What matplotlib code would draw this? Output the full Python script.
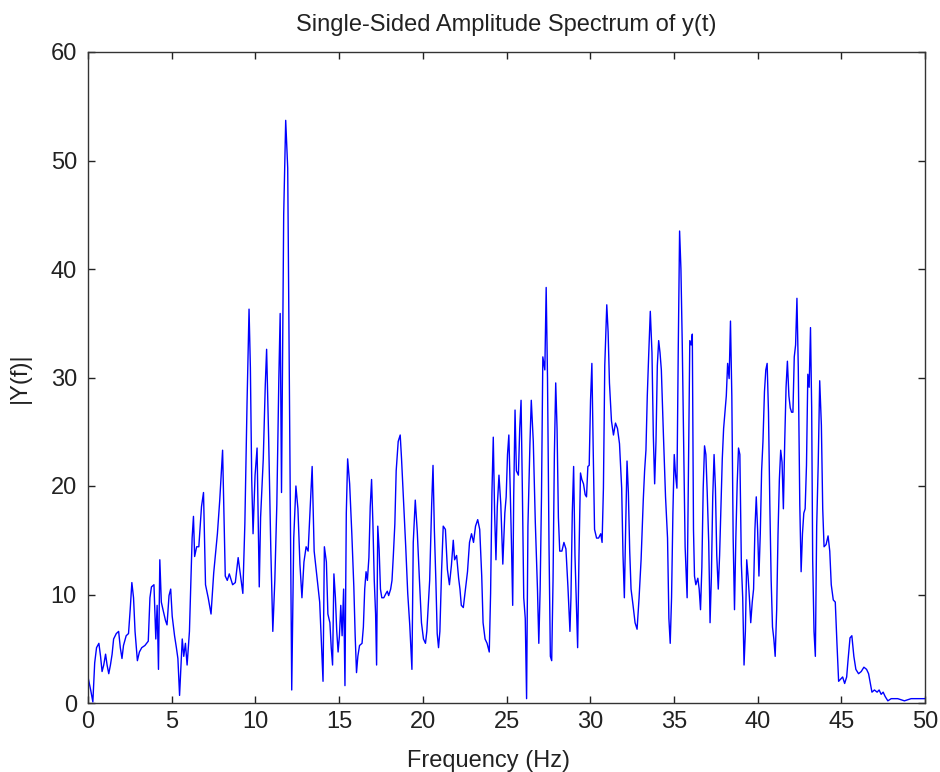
import matplotlib
matplotlib.use('Agg')
import matplotlib.pyplot as plt

plt.rcParams['font.family'] = ['Liberation Sans', 'DejaVu Sans']

# Frequency (Hz) and |Y(f)|
freq = [
   0.0, 0.16, 0.29, 0.4, 0.51, 0.65, 0.75, 0.84, 0.94, 1.05, 1.14, 1.24, 1.34, 1.44,
   1.53, 1.69, 1.83, 1.93, 2.03, 2.12, 2.28, 2.42, 2.52, 2.62, 2.72, 2.81, 2.95, 3.07,
   3.21, 3.4, 3.6, 3.7, 3.79, 3.94, 4.05, 4.13, 4.21, 4.29, 4.38, 4.48, 4.63, 4.72,
   4.84, 4.94, 5.03, 5.17, 5.28, 5.37, 5.47, 5.63, 5.72, 5.82, 5.92, 6.06, 6.22, 6.3,
   6.37, 6.49, 6.62, 6.78, 6.9, 7.02, 7.18, 7.35, 7.51, 7.73, 7.87, 8.04, 8.2, 8.32,
   8.44, 8.64, 8.8, 8.97, 9.13, 9.25, 9.37, 9.5, 9.62, 9.7, 9.78, 9.86, 9.98, 10.1,
   10.23, 10.31, 10.47, 10.59, 10.67, 10.79, 10.92, 11.04, 11.16, 11.28, 11.4, 11.48,
   11.56, 11.69, 11.81, 11.93, 12.05, 12.17, 12.29, 12.42, 12.54, 12.66, 12.78, 12.9,
   13.03, 13.15, 13.27, 13.39, 13.51, 13.67, 13.84, 13.98, 14.04, 14.12, 14.24, 14.33,
   14.45, 14.53, 14.61, 14.69, 14.78, 14.86, 14.94, 15.02, 15.1, 15.18, 15.27, 15.35,
   15.43, 15.51, 15.63, 15.76, 15.88, 15.96, 16.04, 16.12, 16.22, 16.37, 16.45, 16.53,
   16.61, 16.69, 16.78, 16.86, 16.94, 17.02, 17.1, 17.18, 17.24, 17.31, 17.39, 17.47,
   17.55, 17.67, 17.8, 17.88, 17.96, 18.08, 18.16, 18.24, 18.33, 18.41, 18.53, 18.65,
   18.73, 18.86, 18.98, 19.1, 19.22, 19.35, 19.43, 19.55, 19.67, 19.8, 19.92, 20.04,
   20.16, 20.24, 20.33, 20.41, 20.53, 20.61, 20.69, 20.78, 20.86, 20.94, 21.02, 21.12,
   21.22, 21.35, 21.47, 21.59, 21.71, 21.82, 21.9, 22.02, 22.14, 22.22, 22.3, 22.42,
   22.55, 22.67, 22.79, 22.91, 23.03, 23.15, 23.28, 23.4, 23.52, 23.6, 23.72, 23.84,
   23.97, 24.05, 24.13, 24.21, 24.29, 24.37, 24.45, 24.55, 24.66, 24.78, 24.9, 24.98,
   25.06, 25.14, 25.22, 25.3, 25.37, 25.43, 25.51, 25.59, 25.71, 25.79, 25.87, 25.95,
   26.03, 26.12, 26.2, 26.28, 26.4, 26.48, 26.6, 26.72, 26.85, 26.93, 27.01, 27.09,
   27.17, 27.29, 27.37, 27.45, 27.54, 27.62, 27.7, 27.78, 27.86, 27.94, 28.02, 28.1,
   28.18, 28.31, 28.43, 28.55, 28.67, 28.79, 28.85, 28.93, 29.01, 29.09, 29.17, 29.25,
   29.33, 29.42, 29.5, 29.6, 29.7, 29.78, 29.86, 29.94, 30.02, 30.1, 30.18, 30.26,
   30.38, 30.5, 30.63, 30.71, 30.79, 30.87, 30.99, 31.07, 31.15, 31.27, 31.39, 31.51,
   31.63, 31.75, 31.88, 31.96, 32.04, 32.12, 32.2, 32.28, 32.36, 32.44, 32.56, 32.68,
   32.8, 32.92, 33.04, 33.17, 33.25, 33.33, 33.41, 33.49, 33.59, 33.69, 33.77, 33.85,
   33.93, 34.01, 34.09, 34.17, 34.25, 34.37, 34.5, 34.62, 34.7, 34.78, 34.86, 34.94,
   35.02, 35.1, 35.18, 35.26, 35.34, 35.42, 35.5, 35.58, 35.67, 35.79, 35.87, 35.95,
   36.03, 36.1, 36.17, 36.23, 36.31, 36.43, 36.51, 36.59, 36.67, 36.75, 36.83, 36.91,
   36.99, 37.08, 37.16, 37.24, 37.32, 37.4, 37.48, 37.56, 37.65, 37.73, 37.81, 37.89,
   37.97, 38.05, 38.13, 38.21, 38.3, 38.38, 38.46, 38.54, 38.62, 38.7, 38.78, 38.86,
   38.94, 39.03, 39.11, 39.19, 39.27, 39.35, 39.43, 39.51, 39.59, 39.68, 39.76, 39.84,
   39.92, 40.0, 40.08, 40.16, 40.24, 40.32, 40.41, 40.49, 40.57, 40.65, 40.73, 40.81,
   40.89, 40.97, 41.05, 41.14, 41.22, 41.3, 41.38, 41.46, 41.54, 41.62, 41.7, 41.78,
   41.87, 41.95, 42.03, 42.11, 42.19, 42.27, 42.35, 42.43, 42.52, 42.6, 42.68, 42.76,
   42.84, 42.92, 43.0, 43.08, 43.16, 43.23, 43.29, 43.37, 43.45, 43.53, 43.62, 43.71,
   43.81, 43.89, 43.97, 44.09, 44.21, 44.31, 44.4, 44.52, 44.64, 44.74, 44.84, 44.96,
   45.08, 45.2, 45.32, 45.4, 45.52, 45.63, 45.75, 45.87, 46.03, 46.19, 46.35, 46.51,
   46.63, 46.71, 46.83, 46.98, 47.14, 47.26, 47.38, 47.5, 47.62, 47.78, 47.98, 48.37,
   48.77, 49.17, 49.56, 50.0]

amp = [
   2.4, 1.2, 0.1, 3.7, 5.1, 5.5, 4.3, 2.9, 3.5, 4.5, 3.5, 2.7, 3.5, 4.5,
   5.9, 6.4, 6.6, 5.1, 4.1, 5.3, 6.2, 6.4, 8.6, 11.1, 9.7, 6.6, 3.9, 4.7,
   5.1, 5.3, 5.7, 9.7, 10.7, 10.9, 5.9, 9.0, 3.1, 13.2, 9.3, 8.6, 7.6, 7.2,
   9.9, 10.5, 8.0, 6.2, 5.1, 4.1, 0.7, 5.9, 4.3, 5.5, 3.5, 6.6, 15.2, 17.2,
   13.5, 14.4, 14.4, 18.1, 19.4, 10.9, 9.7, 8.2, 12.0, 15.6, 18.7, 23.3, 11.7, 11.3,
   11.9, 10.9, 11.1, 13.4, 11.5, 10.1, 16.5, 27.6, 36.3, 30.9, 20.6, 15.6, 21.0, 23.5,
   10.7, 17.1, 22.5, 29.3, 32.6, 24.5, 14.2, 6.6, 11.3, 18.3, 29.9, 35.9,
   19.4, 45.0, 53.7, 49.3, 24.7, 1.2, 15.2, 20.0, 17.9, 12.8, 9.7, 13.0,
   14.4, 14.0, 17.9, 21.8, 14.0, 11.7, 9.3, 4.3, 2.0, 14.4, 13.0, 8.2,
   7.4, 5.1, 3.5, 11.9, 9.7, 6.6, 4.7, 6.2, 9.0, 6.2, 10.5, 1.6,
   17.5, 22.5, 20.2, 15.6, 10.7, 6.2, 2.8, 4.3, 5.3, 5.5, 7.0, 10.5,
   12.1, 11.3, 13.4, 18.1, 20.6, 16.5, 11.3, 8.2, 3.5, 16.3, 14.2, 10.5,
   9.7, 9.7, 10.1, 10.3, 9.9, 10.5, 11.3, 13.6, 16.5, 21.4, 24.1, 24.7,
   22.5, 18.3, 14.4, 10.1, 7.2, 3.1, 14.8, 18.7, 15.8, 11.3, 7.4, 5.9,
   5.5, 6.6, 9.0, 11.3, 18.3, 21.9, 16.0, 11.3, 6.4, 5.1, 6.6, 12.1,
   16.3, 16.0, 12.3, 10.9, 12.7, 15.0, 13.2, 13.6, 11.5, 10.5, 9.0, 8.8,
   10.5, 12.1, 14.8, 15.6, 14.8, 16.3, 16.9, 16.0, 11.7, 7.4, 5.9, 5.5,
   4.7, 10.1, 19.4, 24.5, 17.5, 13.2, 18.1, 21.0, 18.3, 12.8, 17.5, 19.0,
   22.9, 24.7, 19.8, 14.4, 9.0, 19.0, 27.0, 21.4, 21.0, 25.3, 27.9, 19.4,
   9.7, 7.8, 0.4, 16.3, 23.9, 27.9, 24.1, 16.7, 10.5, 5.5, 10.5, 19.0,
   31.9, 30.7, 38.3, 29.9, 14.4, 4.3, 3.9, 11.3, 22.9, 29.5, 25.3, 17.1,
   14.0, 14.0, 14.8, 14.2, 10.7, 6.6, 9.7, 17.5, 21.8, 13.6, 9.3, 5.1,
   13.6, 21.2, 20.6, 20.2, 19.2, 19.0, 21.8, 21.9, 27.9, 31.3, 23.3, 16.0,
   15.2, 15.2, 15.6, 14.8, 19.8, 31.1, 36.7, 34.2, 29.5, 26.0, 24.7, 25.8,
   25.3, 23.9, 19.8, 13.6, 9.7, 16.3, 22.3, 19.4, 14.0, 10.5, 9.0, 7.4,
   6.8, 9.7, 13.2, 18.7, 21.4, 23.3, 28.3, 31.9, 36.1, 32.3, 24.7, 20.2,
   24.1, 31.1, 33.4, 32.3, 30.7, 24.9, 19.0, 15.2, 7.8, 5.5, 9.7, 17.5,
   22.9, 21.0, 19.8, 32.6, 43.5, 40.0, 33.0, 24.1, 14.4, 9.7, 21.6, 33.4,
   33.0, 34.0, 16.0, 11.7, 10.9, 11.5, 10.5, 8.6, 12.5, 19.8, 23.7, 22.9,
   19.4, 14.8, 7.4, 11.7, 19.0, 22.9, 19.8, 13.6, 10.5, 13.6, 17.9, 22.5,
   25.3, 26.8, 28.3, 31.3, 29.9, 35.2, 28.3, 15.2, 8.6, 15.2, 20.2, 23.5,
   22.9, 12.8, 9.7, 3.5, 6.6, 13.2, 11.7, 9.7, 7.4, 9.3, 10.5, 16.0,
   19.0, 16.0, 11.7, 15.6, 21.4, 24.1, 28.7, 30.7, 31.3, 26.8, 18.3, 11.3,
   7.0, 5.9, 4.3, 8.6, 15.6, 20.6, 23.3, 22.2, 17.9, 24.1, 29.1, 31.5,
   28.3, 27.2, 26.8, 26.8, 31.9, 33.0, 37.3, 30.9, 18.3, 12.1, 15.6, 17.5,
   17.9, 21.9, 30.3, 29.1, 34.6, 27.2, 13.2, 6.6, 4.3, 16.3, 22.0, 29.7,
   25.6, 17.9, 14.4, 14.6, 15.4, 14.0, 10.9, 9.5, 9.3, 5.5, 2.0, 2.2,
   2.4, 1.8, 2.4, 3.9, 6.0, 6.2, 4.3, 3.1, 2.7, 2.9, 3.3, 3.1,
   2.7, 2.0, 1.0, 1.2, 1.0, 1.2, 0.8, 1.0, 0.6, 0.2, 0.4, 0.4,
   0.2, 0.4, 0.4, 0.4]

x_ticks = [0, 5, 10, 15, 20, 25, 30, 35, 40, 45, 50]
y_ticks = [0, 10, 20, 30, 40, 50, 60]

fig = plt.figure(figsize=(9.4, 7.72), dpi=100)
ax = fig.add_axes([88/940, 69/772, 837/940, 651/772])

ax.plot(freq, amp, color='#0000ff', linewidth=1.0)

ax.set_xlim(0, 50)
ax.set_ylim(0, 60)
ax.set_xticks(x_ticks)
ax.set_yticks(y_ticks)
ax.tick_params(direction='in', length=5, width=1, top=True, right=True,
               labelsize=17, colors='#222222')
ax.tick_params(axis='x', pad=6)
ax.tick_params(axis='y', pad=8)
for s in ax.spines.values():
   s.set_linewidth(1.0)
   s.set_color('#333333')

ax.set_title('Single-Sided Amplitude Spectrum of y(t)', fontsize=17, pad=15,
             color='#222222')
ax.set_ylabel('|Y(f)|', fontsize=17, labelpad=14, color='#222222')
# the x label sits partly below the bottom edge, as in the original export
fig.text(0.52, 0.029, 'Frequency (Hz)', fontsize=17, ha='center', va='top',
         color='#222222')

plt.savefig('out.png', dpi=100)
